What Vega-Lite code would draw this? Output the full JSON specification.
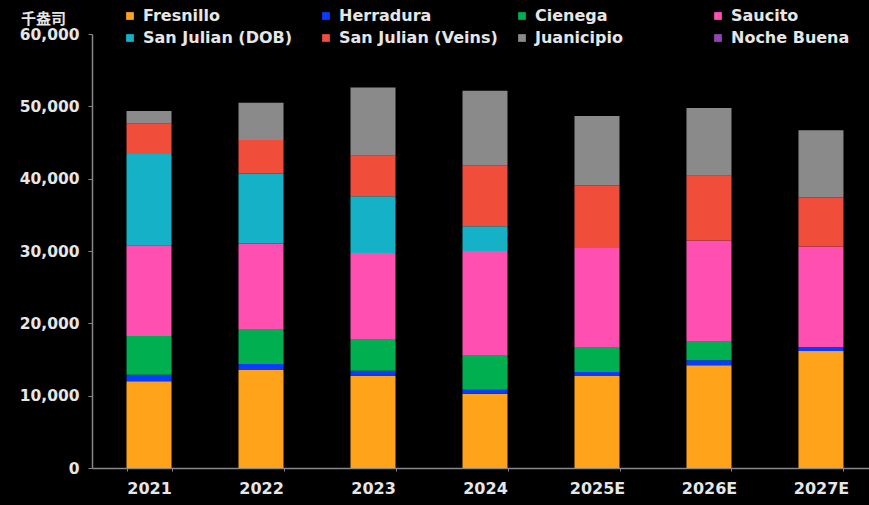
{
  "$schema": "https://vega.github.io/schema/vega-lite/v6.json",
  "autosize": {"type": "none"},
  "width": 777,
  "height": 434,
  "padding": {"left": 92, "top": 34, "right": 0, "bottom": 37},
  "background": "#000000",
  "config": {
    "view": {"stroke": null},
    "font": "DejaVu Sans"
  },
  "data": {
    "values": [
      {"year": "2021", "mine": "Fresnillo", "order": 1, "value": 12000},
      {"year": "2021", "mine": "Herradura", "order": 2, "value": 900},
      {"year": "2021", "mine": "Cienega", "order": 3, "value": 5350},
      {"year": "2021", "mine": "Saucito", "order": 4, "value": 12550},
      {"year": "2021", "mine": "San Julian (DOB)", "order": 5, "value": 12600},
      {"year": "2021", "mine": "San Julian (Veins)", "order": 6, "value": 4250},
      {"year": "2021", "mine": "Juanicipio", "order": 7, "value": 1700},
      {"year": "2021", "mine": "Noche Buena", "order": 8, "value": 0},
      {"year": "2022", "mine": "Fresnillo", "order": 1, "value": 13550},
      {"year": "2022", "mine": "Herradura", "order": 2, "value": 830},
      {"year": "2022", "mine": "Cienega", "order": 3, "value": 4750},
      {"year": "2022", "mine": "Saucito", "order": 4, "value": 11900},
      {"year": "2022", "mine": "San Julian (DOB)", "order": 5, "value": 9700},
      {"year": "2022", "mine": "San Julian (Veins)", "order": 6, "value": 4600},
      {"year": "2022", "mine": "Juanicipio", "order": 7, "value": 5150},
      {"year": "2022", "mine": "Noche Buena", "order": 8, "value": 0},
      {"year": "2023", "mine": "Fresnillo", "order": 1, "value": 12750},
      {"year": "2023", "mine": "Herradura", "order": 2, "value": 700},
      {"year": "2023", "mine": "Cienega", "order": 3, "value": 4380},
      {"year": "2023", "mine": "Saucito", "order": 4, "value": 11900},
      {"year": "2023", "mine": "San Julian (DOB)", "order": 5, "value": 7850},
      {"year": "2023", "mine": "San Julian (Veins)", "order": 6, "value": 5580},
      {"year": "2023", "mine": "Juanicipio", "order": 7, "value": 9460},
      {"year": "2023", "mine": "Noche Buena", "order": 8, "value": 0},
      {"year": "2024", "mine": "Fresnillo", "order": 1, "value": 10270},
      {"year": "2024", "mine": "Herradura", "order": 2, "value": 550},
      {"year": "2024", "mine": "Cienega", "order": 3, "value": 4710},
      {"year": "2024", "mine": "Saucito", "order": 4, "value": 14480},
      {"year": "2024", "mine": "San Julian (DOB)", "order": 5, "value": 3410},
      {"year": "2024", "mine": "San Julian (Veins)", "order": 6, "value": 8450},
      {"year": "2024", "mine": "Juanicipio", "order": 7, "value": 10280},
      {"year": "2024", "mine": "Noche Buena", "order": 8, "value": 0},
      {"year": "2025E", "mine": "Fresnillo", "order": 1, "value": 12710},
      {"year": "2025E", "mine": "Herradura", "order": 2, "value": 550},
      {"year": "2025E", "mine": "Cienega", "order": 3, "value": 3370},
      {"year": "2025E", "mine": "Saucito", "order": 4, "value": 13800},
      {"year": "2025E", "mine": "San Julian (DOB)", "order": 5, "value": 0},
      {"year": "2025E", "mine": "San Julian (Veins)", "order": 6, "value": 8630},
      {"year": "2025E", "mine": "Juanicipio", "order": 7, "value": 9590},
      {"year": "2025E", "mine": "Noche Buena", "order": 8, "value": 0},
      {"year": "2026E", "mine": "Fresnillo", "order": 1, "value": 14190},
      {"year": "2026E", "mine": "Herradura", "order": 2, "value": 690},
      {"year": "2026E", "mine": "Cienega", "order": 3, "value": 2670},
      {"year": "2026E", "mine": "Saucito", "order": 4, "value": 13890},
      {"year": "2026E", "mine": "San Julian (DOB)", "order": 5, "value": 0},
      {"year": "2026E", "mine": "San Julian (Veins)", "order": 6, "value": 8950},
      {"year": "2026E", "mine": "Juanicipio", "order": 7, "value": 9370},
      {"year": "2026E", "mine": "Noche Buena", "order": 8, "value": 0},
      {"year": "2027E", "mine": "Fresnillo", "order": 1, "value": 16170},
      {"year": "2027E", "mine": "Herradura", "order": 2, "value": 550},
      {"year": "2027E", "mine": "Cienega", "order": 3, "value": 0},
      {"year": "2027E", "mine": "Saucito", "order": 4, "value": 13890},
      {"year": "2027E", "mine": "San Julian (DOB)", "order": 5, "value": 0},
      {"year": "2027E", "mine": "San Julian (Veins)", "order": 6, "value": 6790},
      {"year": "2027E", "mine": "Juanicipio", "order": 7, "value": 9310},
      {"year": "2027E", "mine": "Noche Buena", "order": 8, "value": 0}
    ]
  },
  "mark": {"type": "bar"},
  "encoding": {
    "x": {
      "field": "year",
      "type": "ordinal",
      "sort": null,
      "scale": {"paddingInner": 0.598, "paddingOuter": 0.268, "align": 0.575},
      "axis": {
        "title": null,
        "labelAngle": 0,
        "labelFont": "DejaVu Sans",
        "labelFontWeight": "bold",
        "labelFontSize": 16,
        "labelColor": "#E6E6E6",
        "labelPadding": 9,
        "tickBand": "extent",
        "tickSize": 3,
        "tickColor": "#888888",
        "domainColor": "#888888",
        "domainWidth": 1.5
      }
    },
    "y": {
      "field": "value",
      "type": "quantitative",
      "stack": "zero",
      "scale": {"domain": [0, 60000], "nice": false},
      "axis": {
        "title": "千盎司",
        "titleAngle": 0,
        "titleAlign": "center",
        "titleBaseline": "middle",
        "titleX": -49,
        "titleY": -16,
        "titleFont": "Noto Sans CJK SC",
        "titleFontSize": 15,
        "titleFontWeight": "bold",
        "titleColor": "#E6E6E6",
        "values": [0, 10000, 20000, 30000, 40000, 50000, 60000],
        "format": ",.0f",
        "labelFont": "DejaVu Sans",
        "labelFontWeight": "bold",
        "labelFontSize": 15.5,
        "labelColor": "#E6E6E6",
        "labelPadding": 9,
        "tickSize": 4,
        "tickColor": "#888888",
        "domainColor": "#888888",
        "domainWidth": 1.5,
        "grid": false
      }
    },
    "color": {
      "field": "mine",
      "type": "nominal",
      "scale": {
        "domain": ["Fresnillo", "Herradura", "Cienega", "Saucito", "San Julian (DOB)", "San Julian (Veins)", "Juanicipio", "Noche Buena"],
        "range": ["#FFA31A", "#0A3CFF", "#00B050", "#FF4FB0", "#14B1C7", "#F04E3A", "#8A8A8A", "#9146B4"]
      },
      "legend": {
        "title": null,
        "orient": "none",
        "legendX": 30,
        "legendY": -26,
        "direction": "horizontal",
        "columns": 4,
        "gridAlign": "all",
        "columnPadding": 16,
        "rowPadding": 6,
        "symbolType": "square",
        "symbolSize": 60,
        "symbolStrokeWidth": 0,
        "labelOffset": 5,
        "labelFont": "DejaVu Sans",
        "labelFontWeight": "bold",
        "labelFontSize": 16,
        "labelColor": "#E6E6E6",
        "labelLimit": 300
      }
    },
    "order": {"field": "order", "type": "quantitative"}
  }
}
